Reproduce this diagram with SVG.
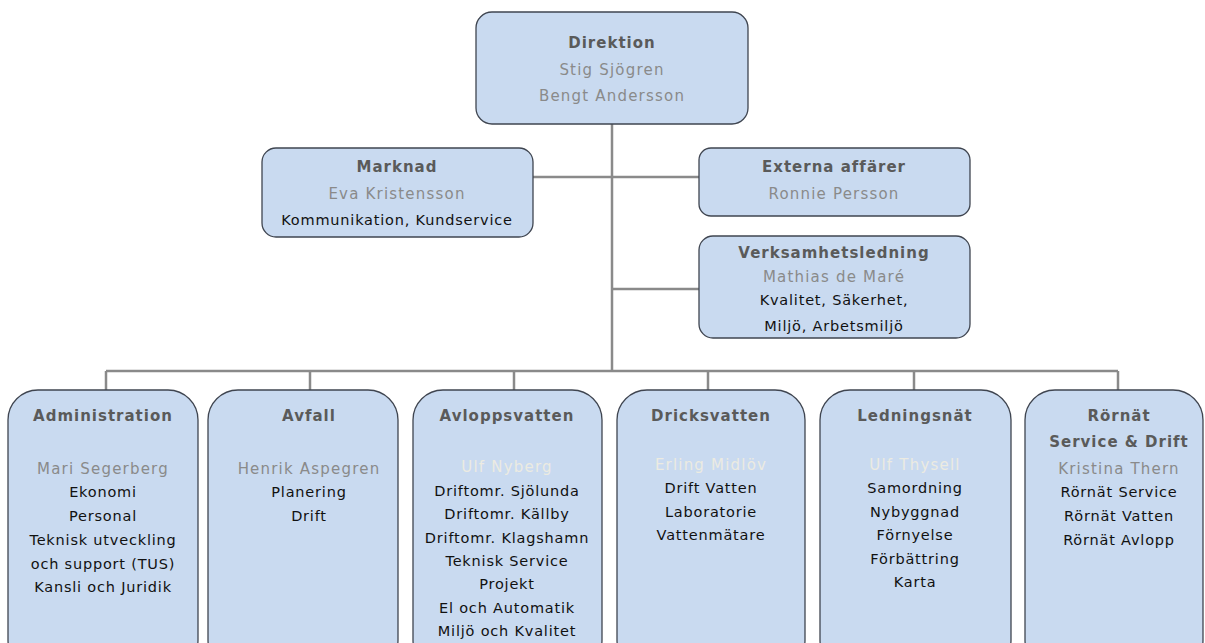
<svg xmlns="http://www.w3.org/2000/svg" width="1205" height="643" viewBox="0 0 1205 643">
<style>
.box{fill:#c9daf0;stroke:#3f4550;stroke-width:1.3}
.ln{stroke:#8a8a8a;stroke-width:2.5;fill:none}
text{font-family:"DejaVu Sans",Verdana,sans-serif;text-anchor:middle}
.t{font-size:15px;font-weight:bold;fill:#5a5a5a;letter-spacing:1px}
.n{font-size:15px;fill:#8a8a8a;letter-spacing:1.2px}
.p{font-size:15px;fill:#ecebe2;letter-spacing:1.2px}
.i{font-size:14.5px;fill:#111;letter-spacing:0.8px}
</style>
<rect width="1205" height="643" fill="#ffffff"/>
<g id="connectors">
<path class="ln" d="M612 124V371M533 177H699M612 289H699M106 371H1118M106 371V390M310 371V390M514 371V390M708 371V390M914 371V390M1118 371V390"/>
</g>
<g id="direktion">
<rect class="box" x="476" y="12" width="272" height="112" rx="16"/>
<text class="t" x="612" y="48">Direktion</text>
<text class="n" x="612" y="75">Stig Sjögren</text>
<text class="n" x="612" y="101">Bengt Andersson</text>
</g>
<g id="marknad">
<rect class="box" x="262" y="148" width="271" height="89" rx="14"/>
<text class="t" x="397" y="172">Marknad</text>
<text class="n" x="397" y="199">Eva Kristensson</text>
<text class="i" x="397" y="225">Kommunikation, Kundservice</text>
</g>
<g id="externa">
<rect class="box" x="699" y="148" width="271" height="68" rx="12"/>
<text class="t" x="834" y="172">Externa affärer</text>
<text class="n" x="834" y="199">Ronnie Persson</text>
</g>
<g id="verksamhet">
<rect class="box" x="699" y="236" width="271" height="102" rx="14"/>
<text class="t" x="834" y="258">Verksamhetsledning</text>
<text class="n" x="834" y="282">Mathias de Maré</text>
<text class="i" x="834" y="305">Kvalitet, Säkerhet,</text>
<text class="i" x="834" y="331">Miljö, Arbetsmiljö</text>
</g>
<g id="administration">
<rect class="box" x="8" y="390" width="190" height="280" rx="30"/>
<text class="t" x="103" y="421">Administration</text>
<text class="n" x="103" y="474">Mari Segerberg</text>
<text class="i" x="103" y="497">Ekonomi</text>
<text class="i" x="103" y="521">Personal</text>
<text class="i" x="103" y="545">Teknisk utveckling</text>
<text class="i" x="103" y="569">och support (TUS)</text>
<text class="i" x="103" y="592">Kansli och Juridik</text>
</g>
<g id="avfall">
<rect class="box" x="208" y="390" width="190" height="280" rx="30"/>
<text class="t" x="309" y="421">Avfall</text>
<text class="n" x="309" y="474">Henrik Aspegren</text>
<text class="i" x="309" y="497">Planering</text>
<text class="i" x="309" y="521">Drift</text>
</g>
<g id="avloppsvatten">
<rect class="box" x="413" y="390" width="189" height="280" rx="30"/>
<text class="t" x="507" y="421">Avloppsvatten</text>
<text class="p" x="507" y="472">Ulf Nyberg</text>
<text class="i" x="507" y="496">Driftomr. Sjölunda</text>
<text class="i" x="507" y="519">Driftomr. Källby</text>
<text class="i" x="507" y="543">Driftomr. Klagshamn</text>
<text class="i" x="507" y="566">Teknisk Service</text>
<text class="i" x="507" y="589">Projekt</text>
<text class="i" x="507" y="613">El och Automatik</text>
<text class="i" x="507" y="636">Miljö och Kvalitet</text>
</g>
<g id="dricksvatten">
<rect class="box" x="617" y="390" width="188" height="280" rx="30"/>
<text class="t" x="711" y="421">Dricksvatten</text>
<text class="p" x="711" y="470">Erling Midlöv</text>
<text class="i" x="711" y="493">Drift Vatten</text>
<text class="i" x="711" y="517">Laboratorie</text>
<text class="i" x="711" y="540">Vattenmätare</text>
</g>
<g id="ledningsnat">
<rect class="box" x="820" y="390" width="191" height="280" rx="30"/>
<text class="t" x="915" y="421">Ledningsnät</text>
<text class="p" x="915" y="470">Ulf Thysell</text>
<text class="i" x="915" y="493">Samordning</text>
<text class="i" x="915" y="517">Nybyggnad</text>
<text class="i" x="915" y="540">Förnyelse</text>
<text class="i" x="915" y="564">Förbättring</text>
<text class="i" x="915" y="587">Karta</text>
</g>
<g id="rornat">
<rect class="box" x="1025" y="390" width="178" height="280" rx="30"/>
<text class="t" x="1119" y="421">Rörnät</text>
<text class="t" x="1119" y="447">Service &amp; Drift</text>
<text class="n" x="1119" y="474">Kristina Thern</text>
<text class="i" x="1119" y="497">Rörnät Service</text>
<text class="i" x="1119" y="521">Rörnät Vatten</text>
<text class="i" x="1119" y="545">Rörnät Avlopp</text>
</g>
</svg>
